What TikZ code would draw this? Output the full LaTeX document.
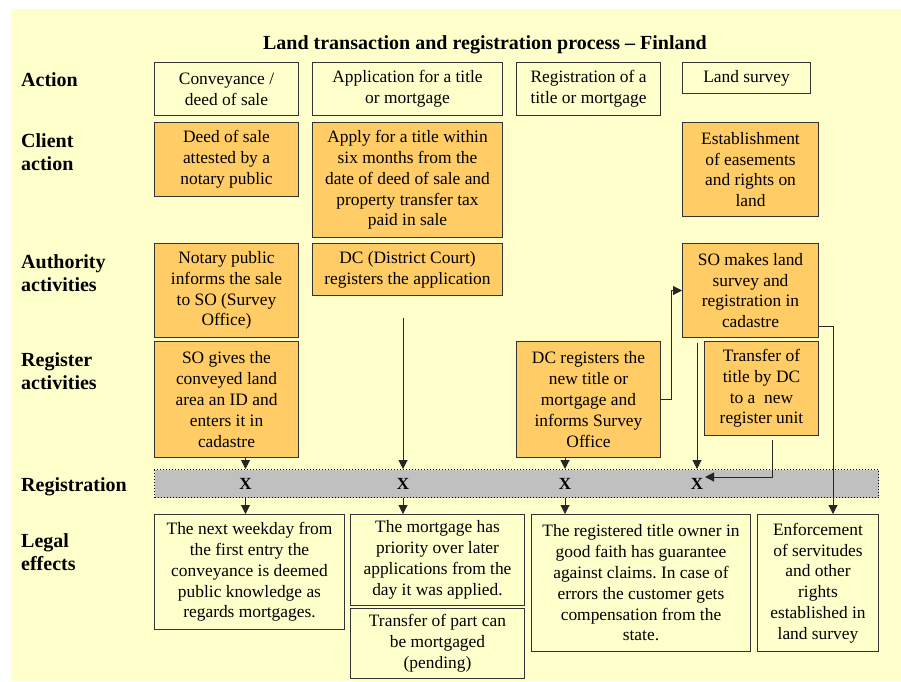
\documentclass[tikz,border=0pt]{standalone}
\usepackage{fontspec}
\setmainfont{Liberation Serif}
\usetikzlibrary{arrows.meta,positioning}
\definecolor{bgyellow}{HTML}{FFFFCC}
\definecolor{boxorange}{HTML}{FFCC66}
\definecolor{bargray}{HTML}{C0C0C0}
\definecolor{edgegray}{HTML}{333333}
\frenchspacing

\begin{document}
\begin{tikzpicture}[
  x=1pt,y=-1pt,
  every node/.style={inner sep=0pt},
  actbox/.style={draw=edgegray,line width=1pt,fill=bgyellow,align=center,anchor=north west,font=\fontsize{17.4}{20.8}\selectfont},
  taskbox/.style={actbox,fill=boxorange},
  effbox/.style={actbox},
  rowlabel/.style={anchor=north west,align=left,font=\fontsize{20}{23.5}\selectfont\bfseries},
  regbar/.style={draw=black,dotted,line width=1pt,fill=bargray,anchor=north west},
  regmark/.style={font=\fontsize{17}{20}\selectfont\bfseries},
  arr/.style={-{Triangle[length=9pt,width=9pt]},line width=1pt,draw=black!85}
]
\useasboundingbox (0,0) rectangle (901,681);
\fill[bgyellow] (11,9) rectangle (901,681);

\node[font=\fontsize{20}{24}\selectfont\bfseries,anchor=base] (title) at (485,49) {Land transaction and registration process \textendash{} Finland};

% row labels
\node[rowlabel] (lblact) at (21,72) {Action};
\node[rowlabel] (lblcli) at (21,133) {Client\\action};
\node[rowlabel] (lblaut) at (21,254) {Authority\\activities};
\node[rowlabel] (lblreg) at (21,352) {Register\\activities};
\node[rowlabel] (lblbar) at (21,477) {Registration};
\node[rowlabel] (lbleff) at (21,533) {Legal\\effects};

% actions
\node[actbox,minimum width=144,minimum height=53] (conv) at (154,62) {Conveyance /\\deed of sale};
\node[actbox,minimum width=190,minimum height=53] (appl) at (312,62) {Application for a title\\or mortgage};
\node[actbox,minimum width=144,minimum height=53] (regt) at (516,62) {Registration of a\\title or mortgage};
\node[actbox,minimum width=128,minimum height=31] (lsur) at (682,62) {Land survey};

% client action
\node[taskbox,minimum width=144,minimum height=74] (deed) at (154,122) {Deed of sale\\attested by a\\notary public};
\node[taskbox,minimum width=190,minimum height=115] (apply) at (312,122) {Apply for a title within\\six months from the\\date of deed of sale and\\property transfer tax\\paid in sale};
\node[taskbox,minimum width=136,minimum height=94] (estab) at (682,122) {Establishment\\of easements\\and rights on\\land};

% authority activities
\node[taskbox,minimum width=144,minimum height=94] (notary) at (154,243) {Notary public\\informs the sale\\to SO (Survey\\Office)};
\node[taskbox,minimum width=190,minimum height=52] (dcapp) at (312,243) {DC (District Court)\\registers the application};
\node[taskbox,minimum width=136,minimum height=94] (somake) at (682,243) {SO makes land\\survey and\\registration in\\cadastre};

% register activities
\node[taskbox,minimum width=144,minimum height=116] (sogive) at (154,341) {SO gives the\\conveyed land\\area an ID and\\enters it in\\cadastre};
\node[taskbox,minimum width=144,minimum height=116] (dcreg) at (516,341) {DC registers the\\new title or\\mortgage and\\informs Survey\\Office};
\node[taskbox,minimum width=114,minimum height=94] (transf) at (704,341) {Transfer of\\title by DC\\to a~ new\\register unit};

% registration
\node[regbar,minimum width=724,minimum height=28] (regbar) at (154,469) {};
\node[regmark] (x1) at (245.5,484) {X};
\node[regmark] (x2) at (403,484) {X};
\node[regmark] (x3) at (565,484) {X};
\node[regmark] (x4) at (697,484) {X};

% legal effects
\node[effbox,minimum width=190,minimum height=115] (eff1) at (154,514) {The next weekday from\\the first entry the\\conveyance is deemed\\public knowledge as\\regards mortgages.};
\node[effbox,minimum width=174,minimum height=91] (eff2) at (350,514) {The mortgage has\\priority over later\\applications from the\\day it was applied.};
\node[effbox,minimum width=174,minimum height=70] (eff2b) at (350,608) {Transfer of part can\\be mortgaged\\(pending)};
\node[effbox,minimum width=219,minimum height=137] (eff3) at (531,514) {The registered title owner in\\good faith has guarantee\\against claims. In case of\\errors the customer gets\\compensation from the\\state.};
\node[effbox,minimum width=121,minimum height=137] (eff4) at (757,514) {Enforcement\\of servitudes\\and other\\rights\\established in\\land survey};

% connectors
\coordinate (dcline) at (403,318);
\coordinate (x4in) at (705,477);
\draw[arr] (x1 |- sogive.south) -- (x1 |- regbar.north);
\draw[arr] (x1 |- regbar.south) -- (x1 |- eff1.north);
\draw[arr] (dcline) -- (dcline |- regbar.north);
\draw[arr] (x2 |- regbar.south) -- (x2 |- eff2.north);
\draw[arr] (x3 |- dcreg.south) -- (x3 |- regbar.north);
\draw[arr] (x3 |- regbar.south) -- (x3 |- eff3.north);
\draw[arr] (dcreg.east) -- ++(10,0) |- (somake.west);
\draw[arr] (x4 |- somake.south) ++(0,5) -- (x4 |- regbar.north);
\draw[arr] (transf.south) ++(11,4) |- (x4in);
\draw[arr] (somake.east) ++(0,36) -| ([xshift=15pt]eff4.north);
\end{tikzpicture}
\end{document}
